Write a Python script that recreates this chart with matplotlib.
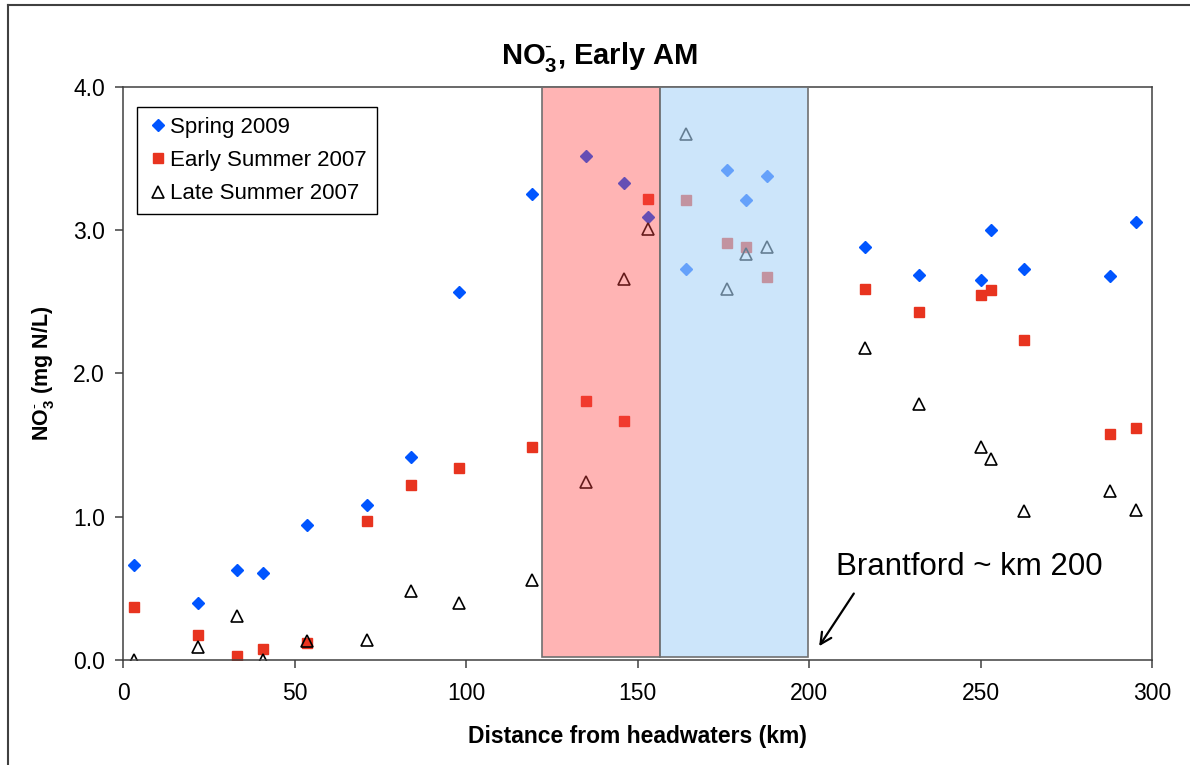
import numpy as np
import matplotlib.pyplot as plt
from matplotlib.patches import Rectangle
from matplotlib.lines import Line2D

plt.rcParams['font.family'] = ['Liberation Sans', 'DejaVu Sans']
plt.rcParams['mathtext.fontset'] = 'custom'
plt.rcParams['mathtext.rm'] = 'Liberation Sans'
plt.rcParams['mathtext.bf'] = 'Liberation Sans:bold'

# distance from headwaters (km) for each sampling site
distance = [3.3, 21.8, 33.2, 40.7, 53.5, 71.2, 84.0, 98.0, 119.2, 135.0, 146.0, 153.1,
            164.0, 176.0, 181.7, 187.7, 216.4, 232.0, 250.1, 253.1, 262.8, 287.8, 295.3]

# NO3- concentrations (mg N/L)
spring_2009 = [0.66, 0.40, 0.63, 0.61, 0.94, 1.08, 1.42, 2.57, 3.25, 3.52, 3.33, 3.09,
               2.73, 3.42, 3.21, 3.38, 2.88, 2.69, 2.65, 3.00, 2.73, 2.68, 3.06]
early_summer_2007 = [0.37, 0.175, 0.025, 0.075, 0.12, 0.97, 1.22, 1.34, 1.49, 1.81, 1.67, 3.22,
                     3.21, 2.91, 2.88, 2.67, 2.59, 2.43, 2.55, 2.58, 2.235, 1.58, 1.62]
late_summer_2007 = [0.0, 0.09, 0.31, 0.0, 0.135, 0.14, 0.48, 0.40, 0.56, 1.24, 2.66, 3.01,
                    3.675, 2.59, 2.835, 2.88, 2.18, 1.785, 1.49, 1.40, 1.04, 1.18, 1.05]

# shaded reaches (km)
red_zone = (122.0, 156.5)
blue_zone = (156.5, 199.6)

fig = plt.figure(figsize=(11.9, 7.65), dpi=100)
ax = fig.add_axes([0.1034, 0.1373, 0.8647, 0.749])

ax.plot(distance, spring_2009, linestyle='none', marker='D', ms=6.5, color='#0055FF',
        mec='#0055FF', label='Spring 2009', zorder=2)
ax.plot(distance, early_summer_2007, linestyle='none', marker='s', ms=7, color='#E8341F',
        mec='#E8341F', label='Early Summer 2007', zorder=2)
ax.plot(distance, late_summer_2007, linestyle='none', marker='^', ms=8, mfc='none',
        mec='black', mew=1.2, label='Late Summer 2007', zorder=2)

# shaded boxes drawn over the points (semi-transparent)
ax.add_patch(Rectangle((red_zone[0], 0.02), red_zone[1] - red_zone[0], 3.98,
                       facecolor=(1.0, 0.27, 0.27, 0.4), edgecolor='#707070', lw=1.2, zorder=3))
ax.add_patch(Rectangle((blue_zone[0], 0.02), blue_zone[1] - blue_zone[0], 3.98,
                       facecolor=(0.667, 0.83, 0.97, 0.6), edgecolor='#707070', lw=1.2, zorder=3))

ax.set_xlim(0, 300)
ax.set_ylim(0, 4.0)
ax.set_xticks([0, 50, 100, 150, 200, 250, 300])
ax.set_yticks([0, 1, 2, 3, 4])
ax.set_yticklabels(['0.0', '1.0', '2.0', '3.0', '4.0'])
ax.tick_params(direction='out', length=6, width=1.1, labelsize=16.5, color='#404040')
ax.tick_params(axis='x', pad=10)
ax.tick_params(axis='y', pad=7)

for s in ax.spines.values():
    s.set_color('#404040')
    s.set_linewidth(1.1)

ax.set_xlabel('Distance from headwaters (km)', fontsize=16.5, fontweight='bold', labelpad=14)
ax.set_ylabel(r'NO$_\mathbf{3}^{\text{-}}$ (mg N/L)', fontsize=15.5, fontweight='bold',
              labelpad=12)
fig.text(600 / 1190, 1 - 57 / 765, r'NO$_\mathbf{3}^{\text{-}}$, Early AM', fontsize=21,
         fontweight='bold', ha='center', va='center')

leg = ax.legend(loc='upper left', bbox_to_anchor=(0.0135, 0.965), fontsize=16, frameon=True,
                fancybox=False, edgecolor='black', framealpha=1, handletextpad=0.05,
                handlelength=1.0, borderpad=0.45, labelspacing=0.55, borderaxespad=0)
leg.get_frame().set_linewidth(1.0)
leg.set_zorder(5)

# Brantford annotation
ax.text(208.0, 0.65, 'Brantford ~ km 200', fontsize=22.5, ha='left', va='center', zorder=6)
ax.annotate('', xy=(202.5, 0.08), xytext=(213.5, 0.48),
            arrowprops=dict(arrowstyle='->', color='black', lw=1.6, mutation_scale=20), zorder=6)

# slide frame around the figure
fig.add_artist(Line2D([8 / 1190, 1.0], [1 - 5 / 765, 1 - 5 / 765], color='#404040', lw=1.5,
                      transform=fig.transFigure))
fig.add_artist(Line2D([8 / 1190, 8 / 1190], [0.0, 1 - 5 / 765], color='#404040', lw=1.5,
                      transform=fig.transFigure))

fig.savefig('out.png', dpi=100)
